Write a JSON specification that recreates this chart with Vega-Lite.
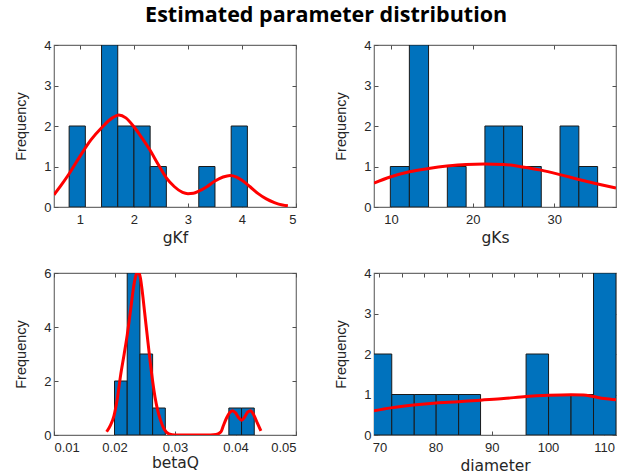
{
  "$schema": "https://vega.github.io/schema/vega-lite/v6.json",
  "background": "white",
  "padding": {"left": 13, "top": 4, "right": 5, "bottom": 5},
  "title": {"text": "Estimated parameter distribution", "font": "Open Sans", "fontSize": 21.5, "fontWeight": "bold", "color": "#000000", "anchor": "middle", "offset": 12, "dx": 11},
  "bounds": "flush",
  "columns": 2,
  "spacing": {"row": 66, "column": 78},
  "datasets": {
    "gKf_bins": [
      {"lo": 0.8, "hi": 1.1, "count": 2},
      {"lo": 1.4, "hi": 1.7, "count": 4},
      {"lo": 1.7, "hi": 2.0, "count": 2},
      {"lo": 2.0, "hi": 2.3, "count": 2},
      {"lo": 2.3, "hi": 2.6, "count": 1},
      {"lo": 3.2, "hi": 3.5, "count": 1},
      {"lo": 3.8, "hi": 4.1, "count": 2}
    ],
    "gKf_kde": [
      {"x": 0.52, "y": 0.3}, {"x": 0.66, "y": 0.55}, {"x": 0.8, "y": 0.82}, {"x": 1.0, "y": 1.25},
      {"x": 1.2, "y": 1.65}, {"x": 1.41, "y": 1.97}, {"x": 1.6, "y": 2.2}, {"x": 1.72, "y": 2.27},
      {"x": 1.85, "y": 2.2}, {"x": 2.0, "y": 1.98}, {"x": 2.15, "y": 1.7}, {"x": 2.29, "y": 1.42},
      {"x": 2.45, "y": 1.05}, {"x": 2.6, "y": 0.72}, {"x": 2.75, "y": 0.5}, {"x": 2.9, "y": 0.36},
      {"x": 3.0, "y": 0.33}, {"x": 3.1, "y": 0.34}, {"x": 3.2, "y": 0.39}, {"x": 3.35, "y": 0.5},
      {"x": 3.5, "y": 0.64}, {"x": 3.65, "y": 0.74}, {"x": 3.78, "y": 0.78}, {"x": 3.9, "y": 0.74},
      {"x": 4.0, "y": 0.66}, {"x": 4.15, "y": 0.5}, {"x": 4.3, "y": 0.33}, {"x": 4.45, "y": 0.2},
      {"x": 4.6, "y": 0.11}, {"x": 4.75, "y": 0.05}, {"x": 4.85, "y": 0.03}
    ],
    "gKs_bins": [
      {"lo": 9.92, "hi": 12.25, "count": 1},
      {"lo": 12.25, "hi": 14.6, "count": 4},
      {"lo": 16.9, "hi": 19.2, "count": 1},
      {"lo": 21.5, "hi": 23.8, "count": 2},
      {"lo": 23.8, "hi": 26.1, "count": 2},
      {"lo": 26.1, "hi": 28.4, "count": 1},
      {"lo": 30.7, "hi": 33.0, "count": 2},
      {"lo": 33.0, "hi": 35.3, "count": 1}
    ],
    "gKs_kde": [
      {"x": 7.92, "y": 0.59}, {"x": 9.9, "y": 0.74}, {"x": 12.25, "y": 0.87}, {"x": 14.6, "y": 0.95},
      {"x": 16.85, "y": 1.01}, {"x": 19.2, "y": 1.05}, {"x": 21.45, "y": 1.06}, {"x": 23.8, "y": 1.05},
      {"x": 26.1, "y": 0.99}, {"x": 28.4, "y": 0.91}, {"x": 30.7, "y": 0.8}, {"x": 33.0, "y": 0.68},
      {"x": 35.3, "y": 0.57}, {"x": 37.55, "y": 0.47}
    ],
    "betaQ_bins": [
      {"lo": 0.02, "hi": 0.0221, "count": 2},
      {"lo": 0.0221, "hi": 0.0242, "count": 6},
      {"lo": 0.0242, "hi": 0.0263, "count": 3},
      {"lo": 0.0263, "hi": 0.0284, "count": 1},
      {"lo": 0.0389, "hi": 0.041, "count": 1},
      {"lo": 0.041, "hi": 0.0431, "count": 1}
    ],
    "betaQ_kde": [
      {"x": 0.0187, "y": 0.12}, {"x": 0.0193, "y": 0.35}, {"x": 0.0199, "y": 0.7}, {"x": 0.0205, "y": 1.4},
      {"x": 0.021, "y": 2.2}, {"x": 0.0216, "y": 3.0}, {"x": 0.0221, "y": 3.7}, {"x": 0.0227, "y": 4.7},
      {"x": 0.0232, "y": 5.55}, {"x": 0.0236, "y": 5.95}, {"x": 0.0239, "y": 6.05}, {"x": 0.0243, "y": 5.8},
      {"x": 0.0246, "y": 5.3}, {"x": 0.025, "y": 4.5}, {"x": 0.0254, "y": 3.7}, {"x": 0.0258, "y": 2.9},
      {"x": 0.0263, "y": 2.0}, {"x": 0.0267, "y": 1.4}, {"x": 0.0271, "y": 0.95}, {"x": 0.0276, "y": 0.55},
      {"x": 0.0282, "y": 0.22}, {"x": 0.029, "y": 0.04}, {"x": 0.03, "y": 0.0}, {"x": 0.035, "y": 0.0},
      {"x": 0.0368, "y": 0.02}, {"x": 0.0376, "y": 0.12}, {"x": 0.038, "y": 0.35}, {"x": 0.0385, "y": 0.62},
      {"x": 0.039, "y": 0.82}, {"x": 0.0395, "y": 0.9}, {"x": 0.04, "y": 0.82}, {"x": 0.0405, "y": 0.65},
      {"x": 0.041, "y": 0.55}, {"x": 0.0415, "y": 0.66}, {"x": 0.042, "y": 0.85}, {"x": 0.0425, "y": 0.9},
      {"x": 0.043, "y": 0.75}, {"x": 0.0436, "y": 0.45}, {"x": 0.0442, "y": 0.15}
    ],
    "diameter_bins": [
      {"lo": 68.2, "hi": 72.2, "count": 2},
      {"lo": 72.2, "hi": 76.2, "count": 1},
      {"lo": 76.2, "hi": 80.1, "count": 1},
      {"lo": 80.1, "hi": 84.1, "count": 1},
      {"lo": 84.1, "hi": 88.0, "count": 1},
      {"lo": 96.1, "hi": 100.1, "count": 2},
      {"lo": 100.1, "hi": 104.1, "count": 1},
      {"lo": 104.1, "hi": 108.1, "count": 1},
      {"lo": 108.1, "hi": 112.1, "count": 4}
    ],
    "diameter_kde": [
      {"x": 69.04, "y": 0.6}, {"x": 72.0, "y": 0.67}, {"x": 76.05, "y": 0.74}, {"x": 80.1, "y": 0.79},
      {"x": 84.1, "y": 0.82}, {"x": 88.0, "y": 0.86}, {"x": 92.1, "y": 0.9}, {"x": 96.1, "y": 0.95},
      {"x": 100.1, "y": 0.98}, {"x": 104.1, "y": 0.995}, {"x": 106.3, "y": 0.985}, {"x": 108.0, "y": 0.95},
      {"x": 110, "y": 0.9}, {"x": 112.1, "y": 0.87}
    ]
  },
  "concat": [
    {
      "width": 242, "height": 162,
      "resolve": {"axis": {"x": "independent", "y": "independent"}},
      "layer": [
        {
          "data": {"name": "gKf_bins"},
          "mark": {"type": "bar", "fill": "#0072BD", "stroke": "#1a1a1a", "strokeWidth": 1, "clip": true},
          "encoding": {
            "x": {"field": "lo", "type": "quantitative", "title": "gKf", "scale": {"domain": [0.52, 5.0], "nice": false, "zero": false}, "axis": {"values": [1, 2, 3, 4, 5]}},
            "x2": {"field": "hi"},
            "y": {"field": "count", "type": "quantitative", "title": "Frequency", "scale": {"domain": [0, 4], "nice": false}, "axis": {"values": [0, 1, 2, 3, 4]}},
            "y2": {"datum": 0}
          }
        },
        {
          "data": {"name": "gKf_kde"},
          "mark": {"type": "line", "color": "#FF0000", "strokeWidth": 3, "interpolate": "monotone", "clip": true},
          "encoding": {
            "x": {"field": "x", "type": "quantitative", "axis": {"orient": "top", "values": [1, 2, 3, 4, 5], "labels": false, "title": null}},
            "y": {"field": "y", "type": "quantitative", "axis": {"orient": "right", "values": [0, 1, 2, 3, 4], "labels": false, "title": null}}
          }
        }
      ]
    },
    {
      "width": 242, "height": 162,
      "resolve": {"axis": {"x": "independent", "y": "independent"}},
      "layer": [
        {
          "data": {"name": "gKs_bins"},
          "mark": {"type": "bar", "fill": "#0072BD", "stroke": "#1a1a1a", "strokeWidth": 1, "clip": true},
          "encoding": {
            "x": {"field": "lo", "type": "quantitative", "title": "gKs", "scale": {"domain": [7.92, 37.55], "nice": false, "zero": false}, "axis": {"values": [10, 20, 30]}},
            "x2": {"field": "hi"},
            "y": {"field": "count", "type": "quantitative", "title": "Frequency", "scale": {"domain": [0, 4], "nice": false}, "axis": {"values": [0, 1, 2, 3, 4]}},
            "y2": {"datum": 0}
          }
        },
        {
          "data": {"name": "gKs_kde"},
          "mark": {"type": "line", "color": "#FF0000", "strokeWidth": 3, "interpolate": "monotone", "clip": true},
          "encoding": {
            "x": {"field": "x", "type": "quantitative", "axis": {"orient": "top", "values": [10, 20, 30], "labels": false, "title": null}},
            "y": {"field": "y", "type": "quantitative", "axis": {"orient": "right", "values": [0, 1, 2, 3, 4], "labels": false, "title": null}}
          }
        }
      ]
    },
    {
      "width": 242, "height": 162,
      "resolve": {"axis": {"x": "independent", "y": "independent"}},
      "layer": [
        {
          "data": {"name": "betaQ_bins"},
          "mark": {"type": "bar", "fill": "#0072BD", "stroke": "#1a1a1a", "strokeWidth": 1, "clip": true},
          "encoding": {
            "x": {"field": "lo", "type": "quantitative", "title": "betaQ", "scale": {"domain": [0.01, 0.05], "nice": false, "zero": false}, "axis": {"values": [0.01, 0.02, 0.03, 0.04, 0.05], "format": ".2f", "titlePadding": 1}},
            "x2": {"field": "hi"},
            "y": {"field": "count", "type": "quantitative", "title": "Frequency", "scale": {"domain": [0, 6], "nice": false}, "axis": {"values": [0, 2, 4, 6]}},
            "y2": {"datum": 0}
          }
        },
        {
          "data": {"name": "betaQ_kde"},
          "mark": {"type": "line", "color": "#FF0000", "strokeWidth": 3, "interpolate": "monotone", "clip": true},
          "encoding": {
            "x": {"field": "x", "type": "quantitative", "axis": {"orient": "top", "values": [0.01, 0.02, 0.03, 0.04, 0.05], "labels": false, "title": null}},
            "y": {"field": "y", "type": "quantitative", "axis": {"orient": "right", "values": [0, 2, 4, 6], "labels": false, "title": null}}
          }
        }
      ]
    },
    {
      "width": 242, "height": 162,
      "resolve": {"axis": {"x": "independent", "y": "independent"}},
      "layer": [
        {
          "data": {"name": "diameter_bins"},
          "mark": {"type": "bar", "fill": "#0072BD", "stroke": "#1a1a1a", "strokeWidth": 1, "clip": true},
          "encoding": {
            "x": {"field": "lo", "type": "quantitative", "title": "diameter", "scale": {"domain": [69.04, 112.1], "nice": false, "zero": false}, "axis": {"values": [70, 80, 90, 100, 110]}},
            "x2": {"field": "hi"},
            "y": {"field": "count", "type": "quantitative", "title": "Frequency", "scale": {"domain": [0, 4], "nice": false}, "axis": {"values": [0, 1, 2, 3, 4]}},
            "y2": {"datum": 0}
          }
        },
        {
          "data": {"name": "diameter_kde"},
          "mark": {"type": "line", "color": "#FF0000", "strokeWidth": 3, "interpolate": "monotone", "clip": true},
          "encoding": {
            "x": {"field": "x", "type": "quantitative", "axis": {"orient": "top", "values": [70, 74, 78, 82, 86, 90, 94, 98, 102, 106, 110], "labels": false, "title": null}},
            "y": {"field": "y", "type": "quantitative", "axis": {"orient": "right", "values": [0, 1, 2, 3, 4], "labels": false, "title": null}}
          }
        }
      ]
    }
  ],
  "config": {
    "view": {"stroke": "#6e6e6e", "strokeWidth": 1.2},
    "axis": {
      "domain": false, "grid": false,
      "tickColor": "#505050", "tickSize": -4, "tickWidth": 1,
      "labelFont": "Liberation Sans", "labelFontSize": 13, "labelColor": "#262626", "labelPadding": 10,
      "titleFont": "Liberation Sans", "titleFontSize": 14.5, "titleFontWeight": "normal", "titleColor": "#262626"
    },
    "axisX": {"titleFont": "DejaVu Sans", "titleFontSize": 15.5},
    "axisY": {"labelPadding": 7, "titlePadding": 15}
  }
}
